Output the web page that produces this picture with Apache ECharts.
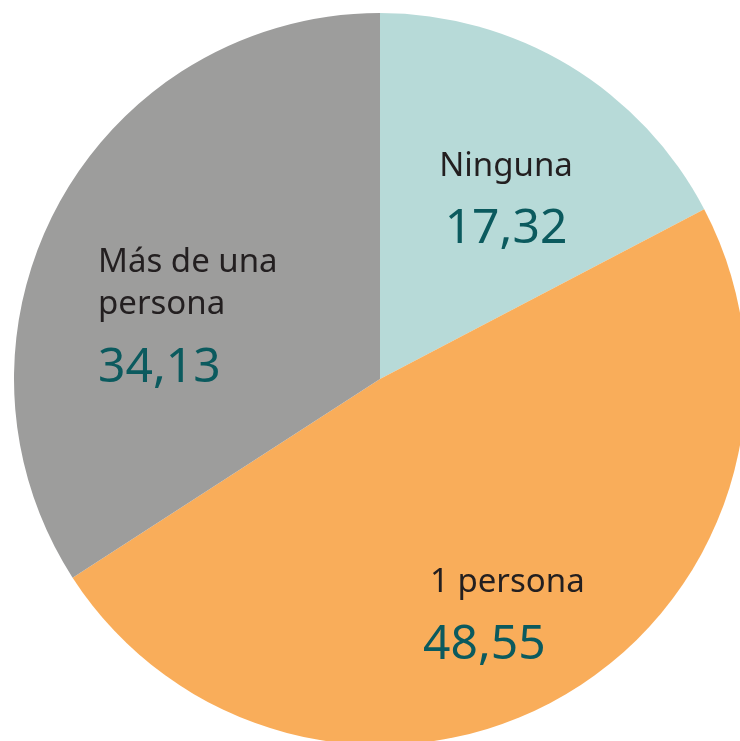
<!DOCTYPE html>
<html>
<head>
<meta charset="utf-8">
<script src="https://cdn.jsdelivr.net/npm/echarts@6/dist/echarts.min.js"></script>
<style>
html,body{margin:0;padding:0;background:#fff;}
#c{width:740px;height:741px;}
</style>
</head>
<body>
<div id="c"></div>
<script>
const categories = ['Ninguna', '1 persona', 'Más de una\npersona'];
const values = [17.32, 48.55, 34.13];
const colors = ['#b7dad8', '#f9ad5a', '#9d9d9c'];

// label anchor positions (layout only)
const labelPos = [
  {x: 506, y: 147, align: 'center'},
  {x: 423, y: 563, align: 'left'},
  {x: 98, y: 242, align: 'left'}
];

const fontFam = '"Noto Sans", "Open Sans", sans-serif';
const chart = echarts.init(document.getElementById('c'));
chart.setOption({
  animation: false,
  series: [{
    type: 'pie',
    center: [380, 379],
    radius: 366,
    startAngle: 90,
    clockwise: true,
    silent: true,
    data: categories.map((n, i) => ({name: n, value: values[i], itemStyle: {color: colors[i]}})),
    labelLine: {show: false},
    label: {
      show: true,
      position: 'inside',
      formatter: p => {
        const lines = p.name.split('\n').map(l => '{n' + p.dataIndex + '|' + l + '}');
        return lines.join('\n') + '\n{v|' + p.value.toFixed(2).replace('.', ',') + '}';
      },
      rich: {
        n0: {fontFamily: fontFam, fontSize: 33, color: '#231f20', lineHeight: 40},
        n1: {fontFamily: fontFam, fontSize: 33, color: '#231f20', lineHeight: 40, padding: [0, 0, 0, 7]},
        n2: {fontFamily: fontFam, fontSize: 33, color: '#231f20', lineHeight: 42},
        v: {fontFamily: fontFam, fontSize: 48, color: '#0b5a5e', lineHeight: 84}
      }
    },
    labelLayout: function (params) {
      const p = labelPos[params.dataIndex];
      return {x: p.x, y: p.y, align: p.align, verticalAlign: 'top'};
    }
  }]
});
</script>
</body>
</html>
